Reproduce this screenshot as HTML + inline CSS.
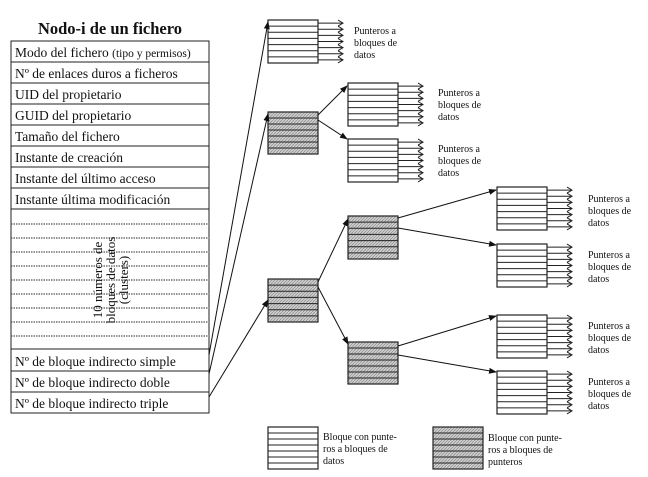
<!DOCTYPE html>
<html><head><meta charset="utf-8"><style>
html,body{margin:0;padding:0;background:#fff}
svg{display:block}
text{font-family:"Liberation Serif",serif;fill:#111}
</style></head><body>
<svg id="s" width="648" height="477" viewBox="0 0 648 477" xmlns="http://www.w3.org/2000/svg">
<defs>
<pattern id="h" width="3" height="3" patternUnits="userSpaceOnUse">
<rect width="3" height="3" fill="#d0d0d0"/><path d="M0 3L3 0" stroke="#888" stroke-width="0.7"/>
</pattern>
<marker id="a" markerWidth="8" markerHeight="6" refX="7" refY="3" orient="auto" markerUnits="userSpaceOnUse">
<path d="M0 0L8 3L0 6z" fill="#111"/></marker>
</defs>
<text x="110" y="34" font-size="16.5" font-weight="bold" text-anchor="middle">Nodo-i de un fichero</text>
<g stroke="#222" fill="none" stroke-width="1">
<rect x="11" y="41" width="198" height="372"/>
<path d="M11 62H209M11 83H209M11 104H209M11 125H209M11 146H209M11 167H209M11 188H209M11 209H209M11 349H209M11 371H209M11 392H209"/>
</g>
<g stroke="#555" stroke-width="1.2" stroke-dasharray="1.5 1">
<path d="M11 224H209M11 238H209M11 252H209M11 266H209M11 280H209M11 294H209M11 308H209M11 322H209M11 336H209"/>
</g>
<g font-size="13.5">
<text x="15" y="57">Modo del fichero <tspan font-size="11.5">(tipo y permisos)</tspan></text>
<text x="15" y="78">Nº de enlaces duros a ficheros</text>
<text x="15" y="99">UID del propietario</text>
<text x="15" y="120">GUID del propietario</text>
<text x="15" y="141">Tamaño del fichero</text>
<text x="15" y="162">Instante de creación</text>
<text x="15" y="183">Instante del último acceso</text>
<text x="15" y="204">Instante última modificación</text>
<text x="15" y="366">Nº de bloque indirecto simple</text>
<text x="15" y="387">Nº de bloque indirecto doble</text>
<text x="15" y="408">Nº de bloque indirecto triple</text>
</g>
<g transform="translate(110,280) rotate(-90)" font-size="13" text-anchor="middle">
<text x="0" y="-8">10 números de</text>
<text x="0" y="5">bloques de datos</text>
<text x="0" y="18">(clusters)</text>
</g>
<g id="blocks"></g>
<g stroke="#111" stroke-width="1" marker-end="url(#a)">
<line x1="209" y1="355" x2="268" y2="22"/>
<line x1="209" y1="374" x2="268" y2="114"/>
<line x1="209" y1="397" x2="268" y2="300"/>
<line x1="318" y1="115" x2="347" y2="86"/>
<line x1="318" y1="120" x2="347" y2="139"/>
<line x1="318" y1="282" x2="348" y2="219"/>
<line x1="318" y1="287" x2="348" y2="344"/>
<line x1="398" y1="218" x2="496" y2="190"/>
<line x1="398" y1="228" x2="496" y2="245"/>
<line x1="398" y1="346" x2="496" y2="316"/>
<line x1="398" y1="355" x2="496" y2="372"/>
</g>
<g font-size="10">
<text x="354" y="34">Punteros a</text><text x="354" y="46">bloques de</text><text x="354" y="58">datos</text>
<text x="438" y="96">Punteros a</text><text x="438" y="108">bloques de</text><text x="438" y="120">datos</text>
<text x="438" y="152">Punteros a</text><text x="438" y="164">bloques de</text><text x="438" y="176">datos</text>
<text x="588" y="202">Punteros a</text><text x="588" y="214">bloques de</text><text x="588" y="226">datos</text>
<text x="588" y="258">Punteros a</text><text x="588" y="270">bloques de</text><text x="588" y="282">datos</text>
<text x="588" y="329">Punteros a</text><text x="588" y="341">bloques de</text><text x="588" y="353">datos</text>
<text x="588" y="385">Punteros a</text><text x="588" y="397">bloques de</text><text x="588" y="409">datos</text>
<text x="323" y="440">Bloque con punte-</text><text x="323" y="452">ros a bloques de</text><text x="323" y="464">datos</text>
<text x="488" y="441">Bloque con punte-</text><text x="488" y="453">ros a bloques de</text><text x="488" y="465">punteros</text>
</g>
</svg>
<script>
var g=document.getElementById('blocks'),NS='http://www.w3.org/2000/svg';
function el(t,a){var e=document.createElementNS(NS,t);for(var k in a)e.setAttribute(k,a[k]);g.appendChild(e);return e;}
function block(x,y,h,gray,arr){
 el('rect',{x:x,y:y,width:50,height:h,fill:gray?'url(#h)':'#fff',stroke:'#222','stroke-width':1.2});
 var n=7,s=h/n;
 for(var i=1;i<n;i++)el('line',{x1:x,y1:y+i*s,x2:x+50,y2:y+i*s,stroke:'#222','stroke-width':1});
 if(arr){for(var i=0;i<n;i++){var yy=y+s*(i+0.5);
  el('line',{x1:x+50,y1:yy,x2:x+74,y2:yy,stroke:'#222','stroke-width':1});
  el('path',{d:'M'+(x+70)+' '+(yy-3)+'L'+(x+75)+' '+yy+'L'+(x+70)+' '+(yy+3),fill:'none',stroke:'#222','stroke-width':1});}}
}
block(268,20,43,0,1);
block(268,112,42,1,0);
block(348,83,43,0,1);
block(348,139,43,0,1);
block(268,279,43,1,0);
block(348,216,43,1,0);
block(348,342,42,1,0);
block(497,187,43,0,1);
block(497,244,43,0,1);
block(497,315,43,0,1);
block(497,371,43,0,1);
block(268,427,42,0,0);
block(433,427,42,1,0);
</script>
</body></html>
